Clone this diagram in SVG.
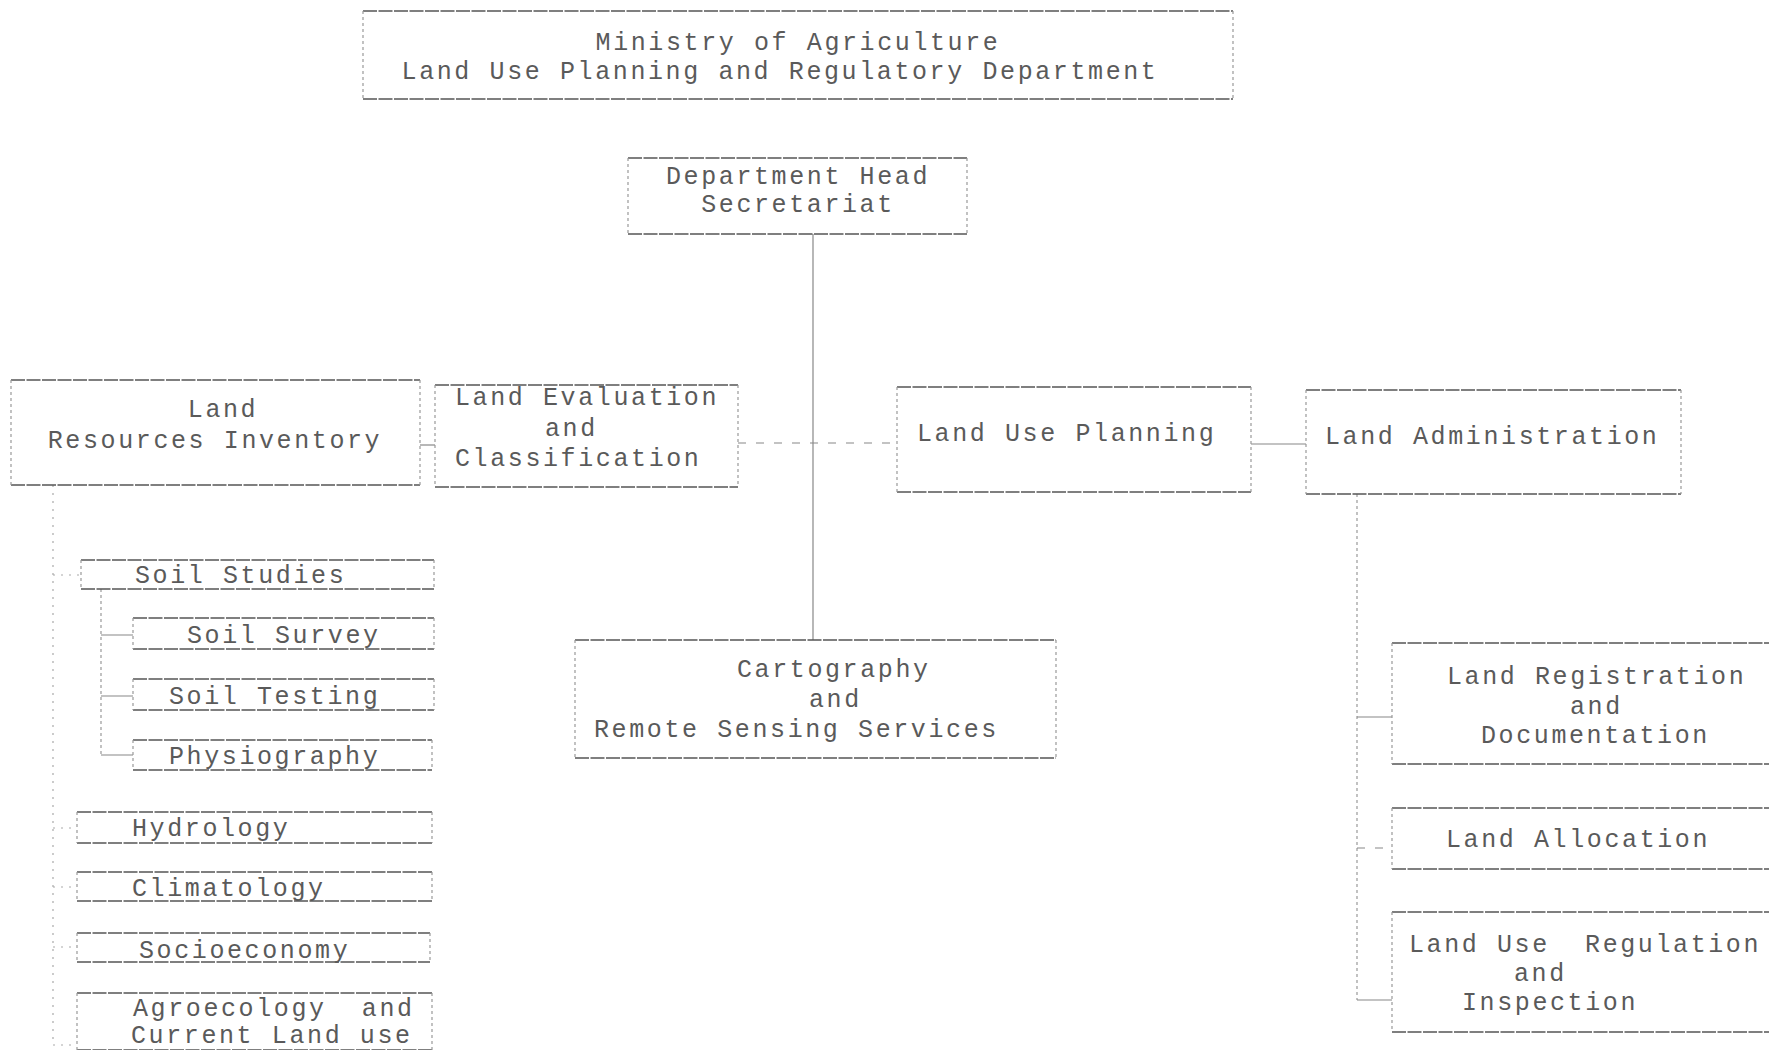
<svg xmlns="http://www.w3.org/2000/svg" width="1769" height="1050" viewBox="0 0 1769 1050">
<style>
  text { font-family: "Liberation Mono", "Courier New", monospace; font-size: 25px; letter-spacing: 2.6px; fill: #5a5a5a; }
  .h { stroke: #555; stroke-width: 1.6; fill: none; stroke-dasharray: 14 1.5; }
  .v { stroke: #999; stroke-width: 1.2; fill: none; stroke-dasharray: 3 3; }
  .c { stroke: #888; stroke-width: 1.2; fill: none; }
  .d { stroke: #888; stroke-width: 1.2; fill: none; stroke-dasharray: 8 10; }
  .p { stroke: #aaa; stroke-width: 1.2; fill: none; stroke-dasharray: 2 6; }
</style>
<rect width="1769" height="1050" fill="#fff"/>

<g id="connectors">
  <path class="c" d="M813 234 V640"/>
  <path class="d" d="M738 443 H897"/>
  <path class="c" d="M420 445 H435"/>
  <path class="c" d="M1251 444 H1306"/>
  <path class="p" d="M53 485 V1045"/>
  <path class="p" d="M53 575 H81 M53 828 H77 M53 887 H77 M53 947 H77 M53 1045 H77"/>
  <path class="v" d="M101 589 V755"/>
  <path class="c" d="M101 635 H133 M101 696 H133 M101 755 H133"/>
  <path class="v" d="M1357 494 V1000"/>
  <path class="c" d="M1357 717 H1392 M1357 1000 H1392"/>
  <path class="d" d="M1357 848 H1392"/>
</g>

<g id="ministry">
  <path class="h" d="M363 11 H1233 M363 99 H1233"/>
  <path class="v" d="M363 11 V99 M1233 11 V99"/>
  <text x="798" y="50" text-anchor="middle">Ministry of Agriculture</text>
  <text x="780" y="79" text-anchor="middle">Land Use Planning and Regulatory Department</text>
</g>

<g id="dept-head">
  <path class="h" d="M628 158 H967 M628 234 H967"/>
  <path class="v" d="M628 158 V234 M967 158 V234"/>
  <text x="798" y="184" text-anchor="middle">Department Head</text>
  <text x="798" y="212" text-anchor="middle">Secretariat</text>
</g>

<g id="land-resources-inventory">
  <path class="h" d="M11 380 H420 M11 485 H420"/>
  <path class="v" d="M11 380 V485 M420 380 V485"/>
  <text x="223" y="417" text-anchor="middle">Land</text>
  <text x="215" y="448" text-anchor="middle">Resources Inventory</text>
</g>

<g id="land-evaluation">
  <path class="h" d="M435 385 H738 M435 487 H738"/>
  <path class="v" d="M435 385 V487 M738 385 V487"/>
  <text x="455" y="405">Land Evaluation</text>
  <text x="545" y="436">and</text>
  <text x="455" y="466">Classification</text>
</g>

<g id="land-use-planning">
  <path class="h" d="M897 387 H1251 M897 492 H1251"/>
  <path class="v" d="M897 387 V492 M1251 387 V492"/>
  <text x="917" y="441">Land Use Planning</text>
</g>

<g id="land-administration">
  <path class="h" d="M1306 390 H1681 M1306 494 H1681"/>
  <path class="v" d="M1306 390 V494 M1681 390 V494"/>
  <text x="1325" y="444">Land Administration</text>
</g>

<g id="cartography">
  <path class="h" d="M575 640 H1056 M575 758 H1056"/>
  <path class="v" d="M575 640 V758 M1056 640 V758"/>
  <text x="737" y="677">Cartography</text>
  <text x="809" y="707">and</text>
  <text x="594" y="737">Remote Sensing Services</text>
</g>

<g id="soil-studies">
  <path class="h" d="M81 560 H434 M81 589 H434"/>
  <path class="v" d="M81 560 V589 M434 560 V589"/>
  <text x="135" y="583">Soil Studies</text>
</g>
<g id="soil-survey">
  <path class="h" d="M133 618 H434 M133 649 H434"/>
  <path class="v" d="M133 618 V649 M434 618 V649"/>
  <text x="187" y="643">Soil Survey</text>
</g>
<g id="soil-testing">
  <path class="h" d="M133 679 H434 M133 710 H434"/>
  <path class="v" d="M133 679 V710 M434 679 V710"/>
  <text x="169" y="704">Soil Testing</text>
</g>
<g id="physiography">
  <path class="h" d="M133 740 H432 M133 770 H432"/>
  <path class="v" d="M133 740 V770 M432 740 V770"/>
  <text x="169" y="764">Physiography</text>
</g>
<g id="hydrology">
  <path class="h" d="M77 812 H432 M77 843 H432"/>
  <path class="v" d="M77 812 V843 M432 812 V843"/>
  <text x="132" y="836">Hydrology</text>
</g>
<g id="climatology">
  <path class="h" d="M77 872 H432 M77 901 H432"/>
  <path class="v" d="M77 872 V901 M432 872 V901"/>
  <text x="132" y="896">Climatology</text>
</g>
<g id="socioeconomy">
  <path class="h" d="M77 933 H430 M77 962 H430"/>
  <path class="v" d="M77 933 V962 M430 933 V962"/>
  <text x="139" y="958">Socioeconomy</text>
</g>
<g id="agroecology">
  <path class="h" d="M77 993 H432 M77 1050 H432"/>
  <path class="v" d="M77 993 V1050 M432 993 V1050"/>
  <text x="133" y="1016" xml:space="preserve">Agroecology  and</text>
  <text x="131" y="1043">Current Land use</text>
</g>

<g id="land-registration">
  <path class="h" d="M1392 643 H1775 M1392 764 H1775"/>
  <path class="v" d="M1392 643 V764"/>
  <text x="1447" y="684">Land Registration</text>
  <text x="1570" y="714">and</text>
  <text x="1481" y="743">Documentation</text>
</g>
<g id="land-allocation">
  <path class="h" d="M1392 808 H1775 M1392 869 H1775"/>
  <path class="v" d="M1392 808 V869"/>
  <text x="1446" y="847">Land Allocation</text>
</g>
<g id="land-use-regulation">
  <path class="h" d="M1392 912 H1775 M1392 1032 H1775"/>
  <path class="v" d="M1392 912 V1032"/>
  <text x="1409" y="952" xml:space="preserve">Land Use  Regulation</text>
  <text x="1514" y="981">and</text>
  <text x="1462" y="1010">Inspection</text>
</g>
</svg>
